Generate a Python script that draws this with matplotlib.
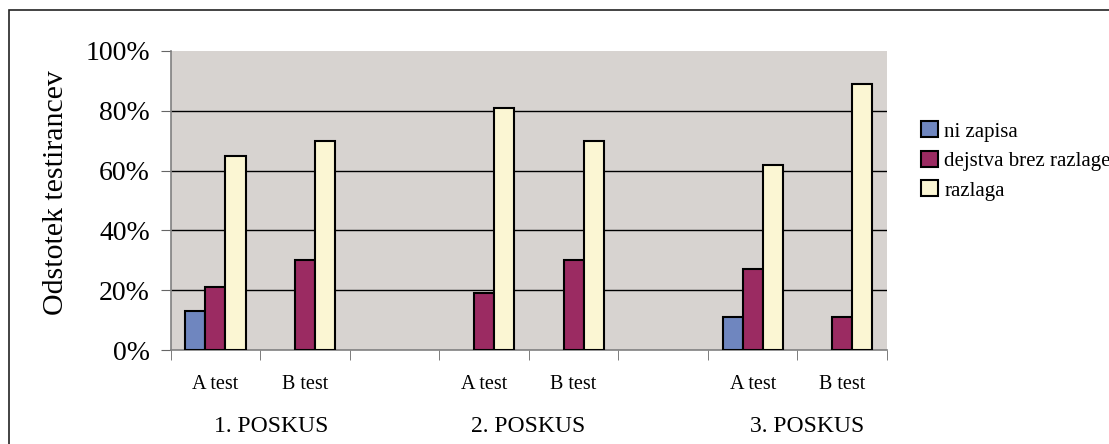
import numpy as np
import matplotlib.pyplot as plt
from matplotlib.patches import Rectangle

# categories (empty slots separate the three attempts)
categories = ["A test", "B test", "", "A test", "B test", "", "A test", "B test"]
series_names = ["ni zapisa", "dejstva brez razlage", "razlaga"]
ni_zapisa = [13, 0, 0, 0, 0, 0, 11, 0]
dejstva = [21, 30, 0, 19, 30, 0, 27, 11]
razlaga = [65, 70, 0, 81, 70, 0, 62, 89]
groups = ["1. POSKUS", "2. POSKUS", "3. POSKUS"]
group_pos = [0.62, 3.49, 6.61]

colors = ["#6f86bf", "#9b2b62", "#fbf6d3"]

plt.rcParams['font.family'] = 'serif'
plt.rcParams['font.serif'] = ['Liberation Serif', 'DejaVu Serif']

fig = plt.figure(figsize=(11.09, 4.44), dpi=100)
#outer frame, cut by the right and bottom edge as in the original
fig.patches.append(Rectangle((8.5/1109, -0.1), 1.2, (444-10.5)/444 + 0.1,
                             transform=fig.transFigure, fill=False,
                             edgecolor='#222222', lw=1.2))

ax = fig.add_axes([170.7/1109, 1-350/444, (887-170.7)/1109, (350-51)/444])
ax.set_facecolor('#d7d3d0')

x = np.arange(len(categories))
w = 0.224
for k, vals in enumerate([ni_zapisa, dejstva, razlaga]):
    vals = np.array(vals, dtype=float)
    m = vals > 0
    ax.bar(x[m] + (k-1)*w, vals[m], w, color=colors[k], edgecolor='black',
           lw=1.5, zorder=3, label=series_names[k])

ax.set_xlim(-0.5, len(categories)-0.5)
ax.set_ylim(0, 100)
ax.set_yticks(np.arange(0, 101, 20))
ax.set_yticklabels([f"{v}%" for v in range(0, 101, 20)], fontsize=20)
ax.set_xticks(x)
ax.set_xticklabels(categories, fontsize=14.5)
ax.set_xticks(np.arange(-0.5, len(categories)), minor=True)
ax.tick_params(axis='x', which='major', length=0, pad=18)
ax.tick_params(axis='x', which='minor', length=7, color='#666666', direction='out')
ax.tick_params(axis='y', length=7, pad=8, color='#666666')
for yv in range(20, 100, 20):
    ax.axhline(yv, color='black', lw=1, zorder=1)
for s in ['top', 'right']:
    ax.spines[s].set_visible(False)
for s in ['left', 'bottom']:
    ax.spines[s].set_color('#808080')
    ax.spines[s].set_linewidth(1.2)

for g, p in zip(groups, group_pos):
    ax.text(p, -25.5, g, fontsize=17, ha='center', va='center', clip_on=False)

fig.text(56/1109, 1-193/444, "Odstotek testirancev", rotation=90,
         fontsize=21.5, ha='center', va='center')

ax.legend(loc='upper left', bbox_to_anchor=(913/1109, 1-113/444),
          bbox_transform=fig.transFigure, frameon=False, fontsize=15,
          handlelength=0.8, handleheight=0.8, handletextpad=0.3,
          labelspacing=0.45, borderaxespad=0)

fig.savefig("out.png", dpi=100)
